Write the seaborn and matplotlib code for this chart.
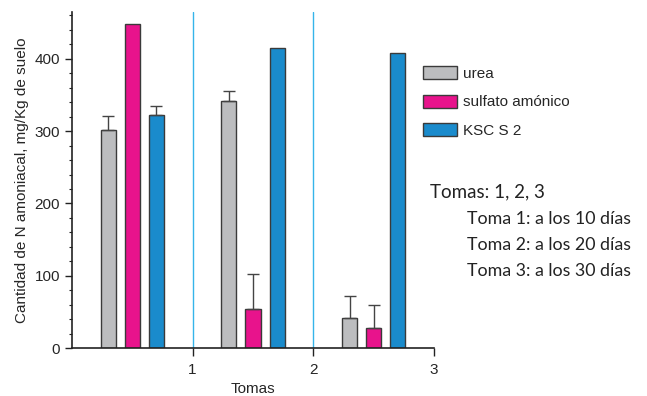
import numpy as np
import pandas as pd
import matplotlib
matplotlib.use("Agg")
import matplotlib.pyplot as plt
from matplotlib.ticker import MultipleLocator
import seaborn as sns

# Values
tomas = [1, 2, 3]
productos = ["urea", "sulfato amónico", "KSC S 2"]
urea = [302, 342, 41]
sulfato = [448, 54, 28]
ksc = [322, 415, 408]
urea_err = [19, 13, 31]
sulfato_err = [0, 49, 31]
ksc_err = [13, 0, 0]
colores = ["#bcbdbf", "#e8138c", "#1a8bcc"]

rows = []
for prod, vals, errs in zip(productos, [urea, sulfato, ksc], [urea_err, sulfato_err, ksc_err]):
    for t, v, e in zip(tomas, vals, errs):
        rows.append({"pos": t - 0.5, "producto": prod, "valor": v, "err": e})
df = pd.DataFrame(rows)

sns.set_style("white")
plt.rcParams["font.family"] = ["Liberation Sans", "DejaVu Sans"]

fig = plt.figure(figsize=(6.47, 3.96), dpi=100)
ax = fig.add_axes([0.111, 0.121, 0.56, 0.849])

sns.barplot(data=df, x="pos", y="valor", hue="producto", hue_order=productos,
            palette=colores, native_scale=True, width=0.6, gap=0.375,
            errorbar=None, edgecolor="#3a3a3a", linewidth=1.0, saturation=1,
            legend=False, ax=ax)

# upper-only error bars on top of each bar
for cont, prod in zip(ax.containers, productos):
    sub = df[df["producto"] == prod]
    xs = [p.get_x() + p.get_width() / 2 for p in cont.patches]
    for x, v, e in zip(xs, sub["valor"], sub["err"]):
        if e > 0:
            ax.errorbar(x, v, yerr=[[0], [e]], fmt="none", ecolor="#444444",
                        elinewidth=1.0, capsize=4, capthick=1.0, zorder=1)

for t in tomas[:-1]:
    ax.axvline(t, color="#35b4ea", lw=1.0, zorder=0)

ax.set_xlim(0, 3)
ax.set_ylim(0, 465)
ax.set_xticks(tomas)
ax.set_xticklabels([str(t) for t in tomas])
ax.yaxis.set_major_locator(MultipleLocator(100))
ax.yaxis.set_minor_locator(MultipleLocator(20))
ax.tick_params(axis="y", which="major", direction="out", length=5, width=1, left=True,
               labelsize=11, color="#222222")
ax.tick_params(axis="y", which="minor", direction="out", length=2.5, width=0.8, left=True,
               color="#222222")
ax.tick_params(axis="x", direction="out", length=6, width=1, bottom=True, labelsize=11,
               pad=5, color="#222222")
for s in ["top", "right"]:
    ax.spines[s].set_visible(False)
for s in ["left", "bottom"]:
    ax.spines[s].set_color("#222222")
    ax.spines[s].set_linewidth(1.2)
ax.spines["left"].set_bounds(0, 465)
ax.set_xlabel("Tomas", fontsize=11, labelpad=3)
ax.set_ylabel("Cantidad de N amoniacal, mg/Kg de suelo", fontsize=11, labelpad=4)

handles = [plt.Rectangle((0, 0), 1, 1, facecolor=c, edgecolor="#3a3a3a", lw=1.0) for c in colores]
fig.legend(handles, productos, loc="upper left", bbox_to_anchor=(0.633, 0.868),
           frameon=False, fontsize=11, handlelength=2.2, handleheight=0.95,
           labelspacing=0.9, handletextpad=0.4)

fig.text(0.664, 0.515, "Tomas: 1, 2, 3", fontsize=13.5, family=["Lato", "DejaVu Sans"],
         color="#222222", va="center")
for i, linea in enumerate(["Toma 1: a los 10 días", "Toma 2: a los 20 días", "Toma 3: a los 30 días"]):
    fig.text(0.722, 0.448 - i * 0.066, linea, fontsize=12.8, family=["Lato", "DejaVu Sans"],
             color="#222222", va="center")

fig.savefig("out.png", dpi=100)
